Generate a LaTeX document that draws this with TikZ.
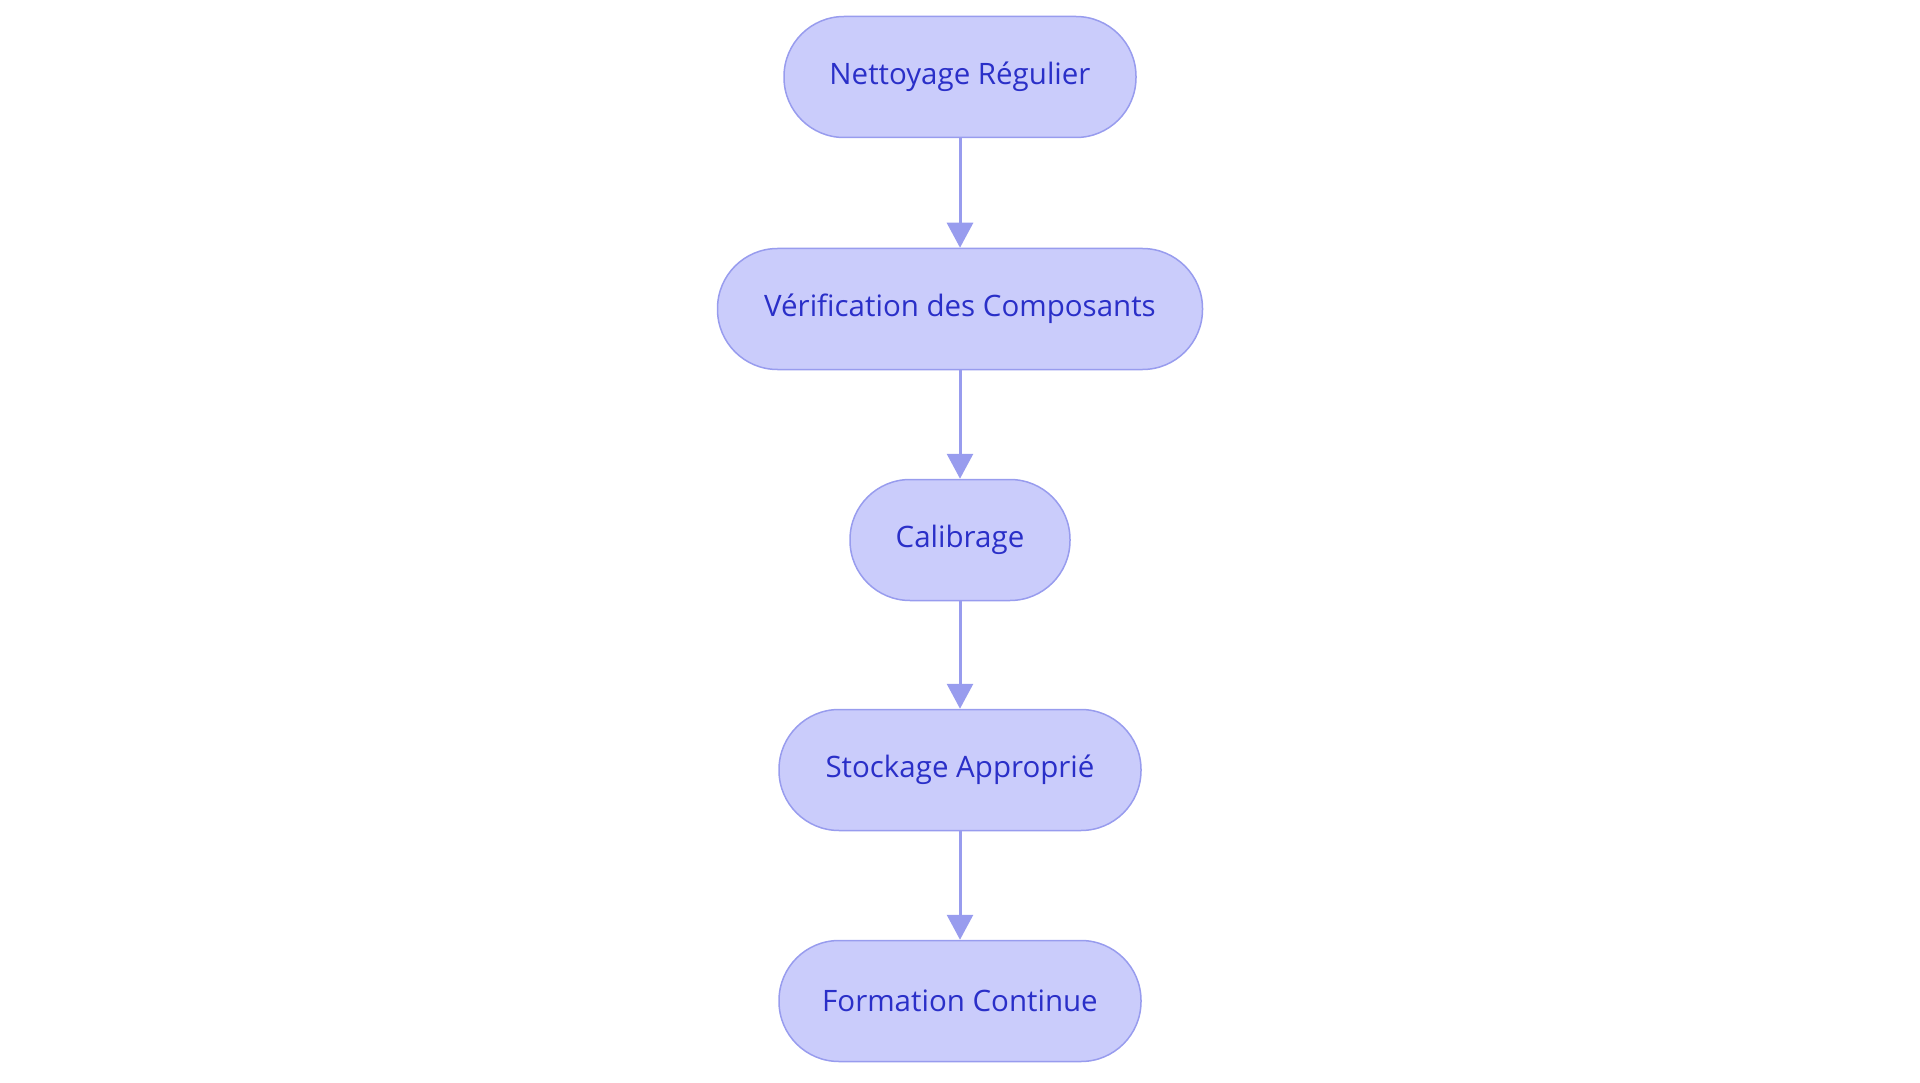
\documentclass[tikz,border=0pt]{standalone}
\usepackage{fontspec}
\setmainfont{Open Sans}
\usetikzlibrary{arrows.meta}
\definecolor{nfill}{HTML}{CACCFB}
\definecolor{nline}{HTML}{989CEE}
\definecolor{ntext}{HTML}{2A2FC8}
\begin{document}
\begin{tikzpicture}[x=1pt,y=1pt,
  box/.style={draw=nline,line width=1.5pt,fill=nfill,rounded corners=60pt,minimum height=121pt,text=ntext,font=\fontsize{29.5}{34}\selectfont,inner sep=0pt},
  arr/.style={draw=nline,line width=3pt,-{Triangle[length=25pt,width=26pt]}}]
\useasboundingbox (0,0) rectangle (1920,-1083);
\node[box,minimum width=352pt] (a) at (960,-77) {Nettoyage Régulier};
\node[box,minimum width=485pt] (b) at (960,-309) {Vérification des Composants};
\node[box,minimum width=220pt] (c) at (960,-540) {Calibrage};
\node[box,minimum width=362pt] (d) at (960,-770) {Stockage Approprié};
\node[box,minimum width=362pt] (e) at (960,-1001) {Formation Continue};
\draw[arr] (a) -- (b);
\draw[arr] (b) -- (c);
\draw[arr] (c) -- (d);
\draw[arr] (d) -- (e);
\end{tikzpicture}
\end{document}
